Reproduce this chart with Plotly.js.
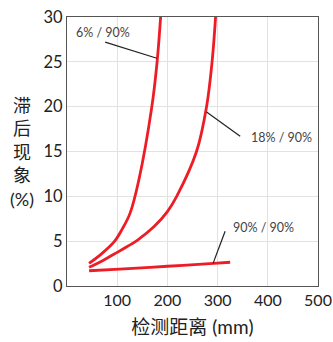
<!DOCTYPE html>
<html><head><meta charset="utf-8">
<script src="https://cdn.plot.ly/plotly-3.0.1.min.js"></script>
<style>html,body{margin:0;padding:0;background:#fff}#chart{width:333px;height:342px}</style>
</head><body><div id="chart"></div>
<script>
// Data
const seriesNames = ["6% / 90%", "18% / 90%", "90% / 90%"];
const x6 = [44, 67, 95, 110, 125.5, 143, 169, 179.5, 186.5];
const y6 = [2.53, 3.5, 5.0, 6.35, 8.1, 11.8, 20.0, 25.0, 30.0];
const x18 = [44, 70, 100, 120, 140, 173, 200, 218.5, 258, 278, 289, 296];
const y18 = [2.08, 2.8, 3.75, 4.4, 5.1, 6.6, 8.3, 10.0, 15.0, 20.0, 25.0, 30.0];
const x90 = [44, 105, 200, 292, 325];
const y90 = [1.7, 1.88, 2.2, 2.52, 2.65];
const xTicks = [100, 200, 300, 400, 500];
const yTicks = [0, 5, 10, 15, 20, 25, 30];
// annotation label positions (data coords)
const labelText = seriesNames;
const labelPos = [[13, 28.3], [427, 16.6], [391, 6.5]];
const leaderFrom = [[76, 27.2], [345, 16.7], [315, 6.1]];
const leaderTo = [[179, 25.4], [278, 19.4], [291, 2.52]];

const red = "#ee1c25";
const font = "Lato, 'Noto Sans CJK SC', sans-serif";
const lineStyle = {color: red, width: 2.8, shape: "spline", smoothing: 1};
const traces = [
  {x: x6, y: y6, mode: "lines", line: lineStyle, name: seriesNames[0]},
  {x: x18, y: y18, mode: "lines", line: lineStyle, name: seriesNames[1]},
  {x: x90, y: y90, mode: "lines", line: lineStyle, name: seriesNames[2]}
];
const shapes = leaderFrom.map((f, i) => ({
  type: "line", xref: "x", yref: "y", x0: f[0], y0: f[1], x1: leaderTo[i][0], y1: leaderTo[i][1],
  line: {color: "#222", width: 1.2}
}));
const annotations = labelText.map((t, i) => ({
  x: labelPos[i][0], y: labelPos[i][1], xref: "x", yref: "y", text: t, showarrow: false,
  xanchor: i === 0 ? "left" : "center", font: {family: font, size: 12.5, color: "#444"}
}));
annotations.push({
  xref: "paper", yref: "paper", x: -0.18, y: 0.5, xanchor: "center", yanchor: "middle",
  text: "滞<br>后<br>现<br>象<br>(%)", showarrow: false, align: "center",
  font: {family: font, size: 18, color: "#222"}
});
const layout = {
  width: 333, height: 342,
  margin: {l: 67, r: 15, t: 17, b: 56},
  showlegend: false,
  paper_bgcolor: "#fff", plot_bgcolor: "#fff",
  font: {family: font, color: "#222"},
  xaxis: {range: [0, 500], tickvals: xTicks, ticktext: xTicks.map(String), showgrid: true,
    gridcolor: "#e2e2e2", gridwidth: 1, zeroline: false, showline: true, linecolor: "#555",
    linewidth: 1, mirror: true, ticks: "", tickfont: {size: 16, family: font, color: "#222"},
    title: {text: "检测距离 (mm)", font: {size: 19, family: font, color: "#222"}, standoff: 12}},
  yaxis: {range: [0, 30], tickvals: yTicks, showgrid: true, gridcolor: "#e2e2e2", gridwidth: 1,
    zeroline: false, showline: true, linecolor: "#555", linewidth: 1, mirror: true, ticks: "",
    tickfont: {size: 16.5, family: font, color: "#222"}},
  shapes: shapes, annotations: annotations
};
Plotly.newPlot("chart", traces, layout, {staticPlot: true, displayModeBar: false});
</script></body></html>
